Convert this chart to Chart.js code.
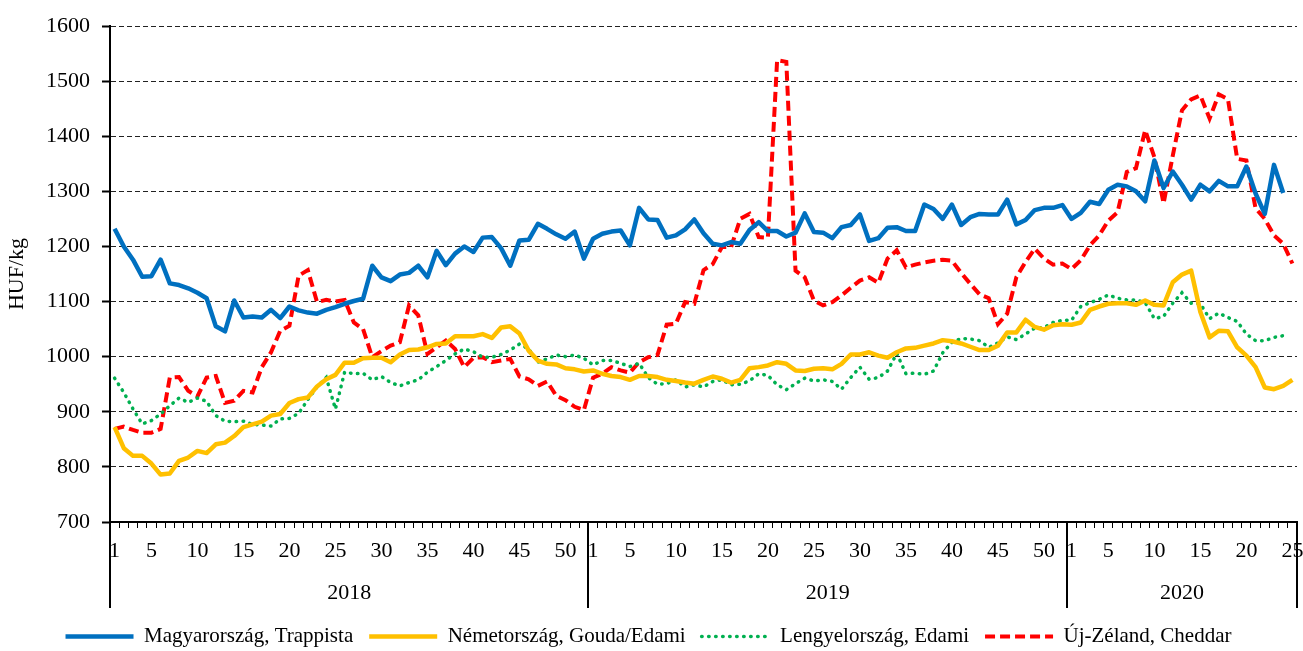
<!DOCTYPE html>
<html>
<head>
<meta charset="utf-8">
<script src="https://cdn.jsdelivr.net/npm/chart.js@4.4.1/dist/chart.umd.min.js"></script>
<style>
html,body{margin:0;padding:0;background:#fff;}
canvas{display:block;}
</style>
</head>
<body>
<canvas id="c" width="1303" height="651"></canvas>
<script>
// ---- data ----
const years = ['2018', '2019', '2020'];
const weeksPerYear = [52, 52, 25];
const weekLabels = [];
weeksPerYear.forEach(n => { for (let w = 1; w <= n; w++) weekLabels.push(String(w)); });

const seriesNames = ['Magyarország, Trappista', 'Németország, Gouda/Edami', 'Lengyelország, Edami', 'Új-Zéland, Cheddar'];

const hungary = [
  // 2018
  1232,1200,1176,1145,1146,1176,1133,1130,1124,1116,1106,1055,1046,1102,1071,1073,1071,1085,1070,1091,
  1084,1080,1078,1085,1090,1096,1101,1105,1165,1144,1137,1149,1152,1165,1144,1192,1166,1187,1200,1190,
  1216,1217,1197,1165,1211,1212,1241,1232,1222,1214,1227,1178,
  // 2019
  1214,1223,1227,1229,1202,1270,1249,1248,1216,1220,1231,1249,1224,1205,1202,1208,1205,1230,1244,1228,
  1228,1218,1225,1260,1226,1225,1215,1235,1239,1258,1210,1215,1234,1235,1228,1228,1276,1268,1250,1276,
  1239,1253,1259,1258,1258,1285,1240,1248,1266,1270,1270,1275,
  // 2020
  1250,1261,1281,1277,1303,1312,1309,1300,1282,1356,1306,1336,1312,1285,1312,1300,1319,1309,1309,1345,
  1296,1259,1348,1297,null
];
const germany = [
  // 2018
  872,834,820,820,806,786,788,811,817,829,825,841,844,856,872,877,882,893,896,916,
  923,926,946,959,967,989,989,997,998,998,990,1004,1012,1013,1017,1023,1024,1037,1037,1037,
  1041,1034,1053,1055,1042,1011,993,987,986,979,977,973,
  // 2019
  975,969,965,963,958,965,965,963,958,956,953,951,958,964,960,953,958,979,981,984,
  990,987,975,974,978,979,977,987,1004,1004,1008,1002,998,1008,1015,1016,1020,1024,1030,1028,
  1024,1018,1012,1012,1020,1044,1044,1067,1054,1049,1057,1059,
  // 2020
  1058,1062,1085,1091,1096,1097,1097,1094,1102,1094,1093,1135,1149,1156,1081,1035,1047,1046,1017,1002,
  981,944,941,947,958
];
const poland = [
  // 2018
  961,935,905,878,884,896,911,925,917,925,919,893,883,882,883,877,876,874,887,888,
  897,922,945,962,905,972,969,970,958,964,953,947,953,958,972,982,993,1005,1014,1009,
  999,999,1004,1012,1023,1014,990,996,1003,1000,1003,997,
  // 2019
  985,993,993,988,982,988,962,950,951,958,945,949,945,955,958,949,950,956,969,966,
  949,940,951,961,956,958,955,941,962,981,959,962,974,1006,969,970,968,974,1007,1026,
  1033,1032,1029,1017,1025,1036,1031,1041,1052,1053,1062,1066,
  // 2020
  1066,1091,1098,1104,1112,1106,1103,1103,1098,1069,1073,1097,1116,1097,1096,1069,1079,1071,1064,1041,
  1029,1029,1035,1038,null
];
const newZealand = [
  // 2018
  869,873,867,862,862,869,962,963,938,928,962,965,916,920,938,935,981,1008,1047,1056,
  1147,1157,1099,1103,1100,1103,1062,1050,999,1010,1020,1026,1093,1075,1005,1017,1029,1014,981,998,
  999,990,993,996,964,959,947,955,929,921,909,903,
  // 2019
  962,969,981,975,971,990,999,1003,1058,1060,1099,1096,1157,1168,1199,1199,1250,1259,1217,1216,
  1538,1535,1156,1144,1102,1093,1099,1111,1125,1138,1144,1134,1178,1193,1162,1167,1171,1174,1176,1174,
  1152,1132,1113,1106,1059,1078,1144,1172,1196,1178,1167,1169,
  // 2020
  1159,1175,1202,1220,1247,1262,1335,1342,1411,1362,1278,1365,1447,1467,1474,1432,1476,1467,1359,1356,
  1269,1250,1220,1205,1169
];

const yMin = 700, yMax = 1600, yStep = 100;
const yTitle = 'HUF/kg';

// year centres and boundaries (in category-index units)
const yearCenters = [];
const yearBounds = [-0.5];
{
  let start = 0;
  weeksPerYear.forEach(n => {
    yearCenters.push(start + (n - 1) / 2);
    start += n;
    yearBounds.push(start - 0.5);
  });
}

// ---- chart ----
const FONT = '"Liberation Serif", "Times New Roman", serif';
Chart.defaults.font.family = FONT;
Chart.defaults.color = '#000';

const yearDividers = {
  id: 'yearDividers',
  afterDraw(chart) {
    const s = chart.scales.x2;
    const ca = chart.chartArea;
    const ctx = chart.ctx;
    ctx.save();
    ctx.strokeStyle = '#000';
    ctx.lineWidth = 2;
    yearBounds.forEach(v => {
      const px = Math.round(s.getPixelForValue(v));
      ctx.beginPath();
      ctx.moveTo(px, ca.bottom);
      ctx.lineTo(px, s.bottom - 2);
      ctx.stroke();
    });
    ctx.restore();
  }
};

new Chart(document.getElementById('c'), {
  type: 'line',
  data: {
    labels: weekLabels,
    datasets: [
      { label: seriesNames[0], data: hungary, borderColor: '#0070C0', backgroundColor: '#0070C0',
        borderWidth: 4.5, pointRadius: 0, tension: 0, borderJoinStyle: 'round', borderCapStyle: 'butt' },
      { label: seriesNames[1], data: germany, borderColor: '#FFC000', backgroundColor: '#FFC000',
        borderWidth: 4.5, pointRadius: 0, tension: 0, borderJoinStyle: 'round', borderCapStyle: 'butt' },
      { label: seriesNames[2], data: poland, borderColor: '#00B050', backgroundColor: '#00B050',
        borderWidth: 3.5, pointRadius: 0, tension: 0, borderDash: [0.5, 6.5], borderCapStyle: 'round' },
      { label: seriesNames[3], data: newZealand, borderColor: '#FF0000', backgroundColor: '#FF0000',
        borderWidth: 4, pointRadius: 0, tension: 0, borderDash: [10, 5], borderCapStyle: 'butt' }
    ]
  },
  options: {
    responsive: false,
    animation: false,
    layout: { padding: { left: 0, right: 6, top: 26, bottom: -6 } },
    plugins: {
      legend: {
        position: 'bottom',
        labels: {
          usePointStyle: true,
          pointStyle: 'line',
          pointStyleWidth: 68,
          padding: 16,
          color: '#000',
          font: { size: 21, family: FONT },
          generateLabels: chart => {
            const items = Chart.defaults.plugins.legend.labels.generateLabels(chart);
            items.forEach(it => {
              const ds = chart.data.datasets[it.datasetIndex];
              it.lineDash = ds.borderDash || [];
              it.lineCap = ds.borderCapStyle || 'butt';
              it.lineWidth = ds.borderWidth;
              it.strokeStyle = ds.borderColor;
              it.fillStyle = ds.borderColor;
              it.pointStyle = 'line';
            });
            return items;
          }
        }
      },
      tooltip: { enabled: false }
    },
    scales: {
      x: {
        type: 'category',
        position: 'bottom',
        offset: true,
        grid: { display: true, offset: true, drawOnChartArea: false, drawTicks: true,
                tickLength: 6, tickColor: '#000', tickWidth: 1 },
        border: { display: true, color: '#000', width: 2 },
        ticks: {
          autoSkip: false, maxRotation: 0, minRotation: 0, padding: 10,
          font: { size: 22, family: FONT }, color: '#000',
          callback: function (val, idx) {
            const w = Number(weekLabels[idx]);
            return (w === 1 || w % 5 === 0) ? String(w) : '';
          }
        },
        afterFit: s => { s.height = 40; s.paddingLeft = 0; s.paddingRight = 0; }
      },
      x2: {
        type: 'linear',
        position: 'bottom',
        min: -0.5,
        max: weekLabels.length - 0.5,
        grid: { display: false, drawTicks: false, tickLength: 0, drawOnChartArea: false },
        border: { display: false },
        afterBuildTicks: s => { s.ticks = yearCenters.map(v => ({ value: v })); },
        ticks: {
          autoSkip: false, maxRotation: 0, minRotation: 0, padding: 18,
          font: { size: 22, family: FONT }, color: '#000',
          callback: (v, i) => years[i]
        },
        afterFit: s => { s.height = 48; s.paddingLeft = 0; s.paddingRight = 0; }
      },
      y: {
        type: 'linear',
        min: yMin, max: yMax,
        grid: { color: '#222', lineWidth: 1, drawTicks: true, tickLength: 8,
                tickColor: '#000', tickWidth: 2, tickBorderDash: [] },
        border: { display: true, color: '#000', width: 2, dash: [5, 3] },
        ticks: { stepSize: yStep, padding: 12, font: { size: 22, family: FONT }, color: '#000',
                 callback: v => String(v) },
        title: { display: true, text: yTitle, font: { size: 22, family: FONT }, color: '#000',
                 padding: { top: 4, bottom: 0 } },
        afterFit: s => { s.width = 110; }
      }
    }
  },
  plugins: [yearDividers]
});
</script>
</body>
</html>
